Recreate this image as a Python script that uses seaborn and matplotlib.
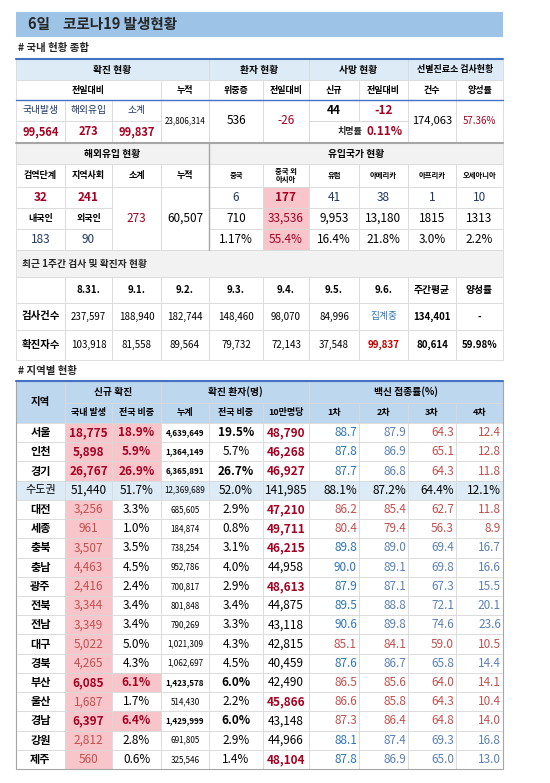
import matplotlib
matplotlib.use("Agg")
import matplotlib.pyplot as plt
import seaborn as sns
from matplotlib.patches import Rectangle

sns.set_theme(style="white")
plt.rcParams['font.family'] = ['Noto Sans CJK KR', 'DejaVu Sans']

# ---- data ----
title = "6일    코로나19 발생현황"
daily_new = ["99,564", "273", "99,837"]
total_cum = "23,806,314"
critical, critical_diff = "536", "-26"
deaths, deaths_diff, fatality = "44", "-12", "0.11%"
tests, positive_rate = "174,063", "57.36%"

import_quar, import_comm, import_sum, import_cum = "32", "241", "273", "60,507"
import_kor, import_for = "183", "90"
origin_names = ["중국", "중국 외\n아시아", "유럽", "아메리카", "아프리카", "오세아니아"]
origin_new = ["6", "177", "41", "38", "1", "10"]
origin_cum = ["710", "33,536", "9,953", "13,180", "1815", "1313"]
origin_pct = ["1.17%", "55.4%", "16.4%", "21.8%", "3.0%", "2.2%"]

week_dates = ["8.31.", "9.1.", "9.2.", "9.3.", "9.4.", "9.5.", "9.6.", "주간평균", "양성률"]
week_tests = ["237,597", "188,940", "182,744", "148,460", "98,070", "84,996", "집계중", "134,401", "-"]
week_cases = ["103,918", "81,558", "89,564", "79,732", "72,143", "37,548", "99,837", "80,614", "59.98%"]

regions = ["서울", "인천", "경기", "수도권", "대전", "세종", "충북", "충남", "광주", "전북",
           "전남", "대구", "경북", "부산", "울산", "경남", "강원", "제주"]
reg_new = ["18,775", "5,898", "26,767", "51,440", "3,256", "961", "3,507", "4,463", "2,416",
           "3,344", "3,349", "5,022", "4,265", "6,085", "1,687", "6,397", "2,812", "560"]
reg_share = ["18.9%", "5.9%", "26.9%", "51.7%", "3.3%", "1.0%", "3.5%", "4.5%", "2.4%", "3.4%",
             "3.4%", "5.0%", "4.3%", "6.1%", "1.7%", "6.4%", "2.8%", "0.6%"]
reg_cum = ["4,639,649", "1,364,149", "6,365,891", "12,369,689", "685,605", "184,874", "738,254",
           "952,786", "700,817", "801,848", "790,269", "1,021,309", "1,062,697", "1,423,578",
           "514,430", "1,429,999", "691,805", "325,546"]
reg_cum_share = ["19.5%", "5.7%", "26.7%", "52.0%", "2.9%", "0.8%", "3.1%", "4.0%", "2.9%", "3.4%",
                 "3.3%", "4.3%", "4.5%", "6.0%", "2.2%", "6.0%", "2.9%", "1.4%"]
reg_per100k = ["48,790", "46,268", "46,927", "141,985", "47,210", "49,711", "46,215", "44,958",
               "48,613", "44,875", "43,118", "42,815", "40,459", "42,490", "45,866", "43,148",
               "44,966", "48,104"]
vac1 = ["88.7", "87.8", "87.7", "88.1%", "86.2", "80.4", "89.8", "90.0", "87.9", "89.5", "90.6",
        "85.1", "87.6", "86.5", "86.6", "87.3", "88.1", "87.8"]
vac2 = ["87.9", "86.9", "86.8", "87.2%", "85.4", "79.4", "89.0", "89.1", "87.1", "88.8", "89.8",
        "84.1", "86.7", "85.6", "85.8", "86.4", "87.4", "86.9"]
vac3 = ["64.3", "65.1", "64.3", "64.4%", "62.7", "56.3", "69.4", "69.8", "67.3", "72.1", "74.6",
        "59.0", "65.8", "64.0", "64.3", "64.8", "69.3", "65.0"]
vac4 = ["12.4", "12.8", "11.8", "12.1%", "11.8", "8.9", "16.7", "16.6", "15.5", "20.1", "23.6",
        "10.5", "14.4", "14.1", "10.4", "14.0", "16.8", "13.0"]
big_regions = ["서울", "인천", "경기", "부산", "경남"]
high_per100k = ["서울", "인천", "경기", "대전", "세종", "충북", "광주", "울산", "제주"]
red_vaccine = ["대전", "세종", "대구", "부산", "울산", "경남"]

# ---- styling ----
X = [16, 65, 112, 161, 209, 263, 309, 359, 408, 456, 503]
GRID = "#D9D9D9"
HEAD = "#DDEBF7"
HEAD2 = "#BDD7EE"
GRAY = "#F2F2F2"
PINK = "#F8C5CB"
DRED = "#A50021"
RED = "#C0504D"
NAVY = "#1F3864"
BLUE = "#2E75B6"
BLUE2 = "#5B80B4"

fig = plt.figure(figsize=(5.5, 7.83), dpi=100)
ax = fig.add_axes([0, 0, 1, 1])
ax.set_xlim(0, 550)
ax.set_ylim(783, 0)
ax.axis("off")


def cell(c0, c1, y0, y1, text="", fc="white", color="black", bold=False, size=7.0, ec=GRID):
    x0, x1 = X[c0], X[c1]
    ax.add_patch(Rectangle((x0, y0), x1 - x0, y1 - y0, facecolor=fc, edgecolor=ec, lw=0.6))
    if text:
        ax.text((x0 + x1) / 2, (y0 + y1) / 2, text, ha="center", va="center", color=color,
                fontsize=size, fontweight="bold" if bold else "normal", linespacing=1.1)


# title
ax.add_patch(Rectangle((16, 12), 487, 25, facecolor="#9DC3E6", edgecolor="none"))
ax.text(28, 24.5, title, ha="left", va="center", fontsize=10.5, fontweight="bold")
ax.text(18, 48, "# 국내 현황 종합", ha="left", va="center", fontsize=7.5, fontweight="bold")

# table 1
cell(0, 4, 59, 80, "확진 현황", HEAD, bold=True)
cell(4, 6, 59, 80, "환자 현황", HEAD, bold=True)
cell(6, 8, 59, 80, "사망 현황", HEAD, bold=True)
cell(8, 10, 59, 80, "선별진료소 검사현황", HEAD, bold=True, size=6.5)
cell(0, 3, 80, 100, "전일대비", bold=True, size=6.5)
for i, t in enumerate(["누적", "위중증", "전일대비", "신규", "전일대비", "건수", "양성률"]):
    cell(3 + i, 4 + i, 80, 100, t, bold=True, size=6.5)
for i, t in enumerate(["국내발생", "해외유입", "소계"]):
    cell(i, i + 1, 100, 121, t, color=NAVY, size=7)
    cell(i, i + 1, 121, 142, daily_new[i], color=DRED, bold=True, size=8)
cell(3, 4, 100, 142, total_cum, size=5.8)
cell(4, 5, 100, 142, critical, size=8.5)
cell(5, 6, 100, 142, critical_diff, color=DRED, size=8.5)
cell(6, 7, 100, 121, deaths, bold=True, size=8.5)
cell(7, 8, 100, 121, deaths_diff, color=DRED, bold=True, size=8.5)
ax.text(350, 131.5, "치명률", ha="center", va="center", fontsize=6.5, fontweight="bold")
ax.text(385, 131.5, fatality, ha="center", va="center", fontsize=8.5, fontweight="bold", color=DRED)
ax.add_patch(Rectangle((309, 121), 99, 21, facecolor="none", edgecolor=GRID, lw=0.6))
cell(8, 9, 100, 142, tests, size=8)
cell(9, 10, 100, 142, positive_rate, color=DRED, size=7)
ax.plot([16, 503], [59, 59], color="#4472C4", lw=1.5)
ax.plot([16, 503], [100, 100], color="#4472C4", lw=1)

# table 2
cell(0, 4, 143, 164, "해외유입 현황", GRAY, bold=True)
cell(4, 10, 143, 164, "유입국가 현황", GRAY, bold=True)
for i, t in enumerate(["검역단계", "지역사회", "소계", "누적"]):
    cell(i, i + 1, 164, 187, t, bold=True, size=6.5)
for i, t in enumerate(origin_names):
    cell(4 + i, 5 + i, 164, 187, t, bold=True, size=5.3)
cell(0, 1, 187, 208, import_quar, color=DRED, bold=True, size=8.5)
cell(1, 2, 187, 208, import_comm, color=DRED, bold=True, size=8.5)
cell(2, 3, 187, 250, import_sum, color=DRED, size=8.5)
cell(3, 4, 187, 250, import_cum, size=8.5)
cell(0, 1, 208, 229, "내국인", bold=True, size=6.5)
cell(1, 2, 208, 229, "외국인", bold=True, size=6.5)
cell(0, 1, 229, 250, import_kor, color=NAVY, size=8.5)
cell(1, 2, 229, 250, import_for, color=NAVY, size=8.5)
for i in range(6):
    hl = i == 1
    cell(4 + i, 5 + i, 187, 208, origin_new[i], PINK if hl else "white",
         DRED if hl else NAVY, bold=hl, size=8.5)
    cell(4 + i, 5 + i, 208, 229, origin_cum[i], PINK if hl else "white",
         DRED if hl else "black", size=8.5)
    cell(4 + i, 5 + i, 229, 250, origin_pct[i], PINK if hl else "white",
         DRED if hl else "black", size=8.5)
ax.plot([16, 503], [143, 143], color="#A6A6A6", lw=1.5)
ax.plot([209, 209], [143, 250], color="#A6A6A6", lw=1)

# table 3 (weekly)
cell(0, 10, 250, 277, "", GRAY)
ax.text(22, 263.5, "최근 1주간 검사 및 확진자 현황", ha="left", va="center", fontsize=7, fontweight="bold")
cell(0, 1, 277, 303)
cell(0, 1, 303, 330, "검사건수", bold=True, size=7.5)
cell(0, 1, 330, 360, "확진자수", bold=True, size=7.5)
for i in range(9):
    cell(1 + i, 2 + i, 277, 303, week_dates[i], bold=True, size=7)
    tcol = BLUE if week_tests[i] == "집계중" else "black"
    cell(1 + i, 2 + i, 303, 330, week_tests[i], color=tcol, bold=i >= 7, size=7)
    ccol = "#C00000" if i == 6 else "black"
    cell(1 + i, 2 + i, 330, 360, week_cases[i], color=ccol, bold=i >= 6, size=7)

# regional table
ax.text(18, 371, "# 지역별 현황", ha="left", va="center", fontsize=7.5, fontweight="bold")
cell(0, 1, 381, 423, "지역", HEAD2, bold=True, size=7.5)
cell(1, 3, 381, 403, "신규 확진", HEAD2, bold=True)
cell(3, 6, 381, 403, "확진 환자(명)", HEAD2, bold=True)
cell(6, 10, 381, 403, "백신 접종률(%)", HEAD2, bold=True)
for i, t in enumerate(["국내 발생", "전국 비중", "누계", "전국 비중", "10만명당", "1차", "2차", "3차", "4차"]):
    cell(1 + i, 2 + i, 403, 423, t, HEAD2, bold=True, size=6.5)
ax.plot([16, 503], [381, 381], color="#4472C4", lw=1.5)

rh = (769 - 423) / len(regions)
for r, name in enumerate(regions):
    y0, y1 = 423 + r * rh, 423 + (r + 1) * rh
    metro = name == "수도권"
    big = name in big_regions
    base = HEAD if metro else "white"
    sz = 8.5
    cell(0, 1, y0, y1, name, base, bold=not metro, size=8)
    cell(1, 2, y0, y1, reg_new[r], base if metro else PINK,
         "black" if metro else (DRED if big else RED), bold=big, size=sz)
    cell(2, 3, y0, y1, reg_share[r], PINK if big else base,
         DRED if big else "black", bold=big, size=sz)
    cell(3, 4, y0, y1, reg_cum[r], base, bold=big, size=5.8)
    cs_bold = big and name != "인천"
    cell(4, 5, y0, y1, reg_cum_share[r], base, bold=cs_bold, size=sz)
    hp = name in high_per100k
    cell(5, 6, y0, y1, reg_per100k[r], base, DRED if hp else "black", bold=hp, size=sz)
    for k, vals in enumerate([vac1, vac2, vac3, vac4]):
        if metro:
            col = "black"
        elif name in red_vaccine:
            col = RED
        elif k == 2 or k == 3:
            col = BLUE2 if name not in ["서울", "인천", "경기"] else RED
        else:
            col = BLUE if k == 0 else BLUE2
        x0, x1 = X[6 + k], X[7 + k]
        ax.add_patch(Rectangle((x0, y0), x1 - x0, y1 - y0, facecolor=base, edgecolor=GRID, lw=0.6))
        ax.text(x1 - 2, (y0 + y1) / 2, vals[r], ha="right", va="center", color=col, fontsize=sz)
ax.add_patch(Rectangle((16, 381), 487, 388, facecolor="none", edgecolor="#A6A6A6", lw=0.8))

fig.savefig("out.png", dpi=100)
